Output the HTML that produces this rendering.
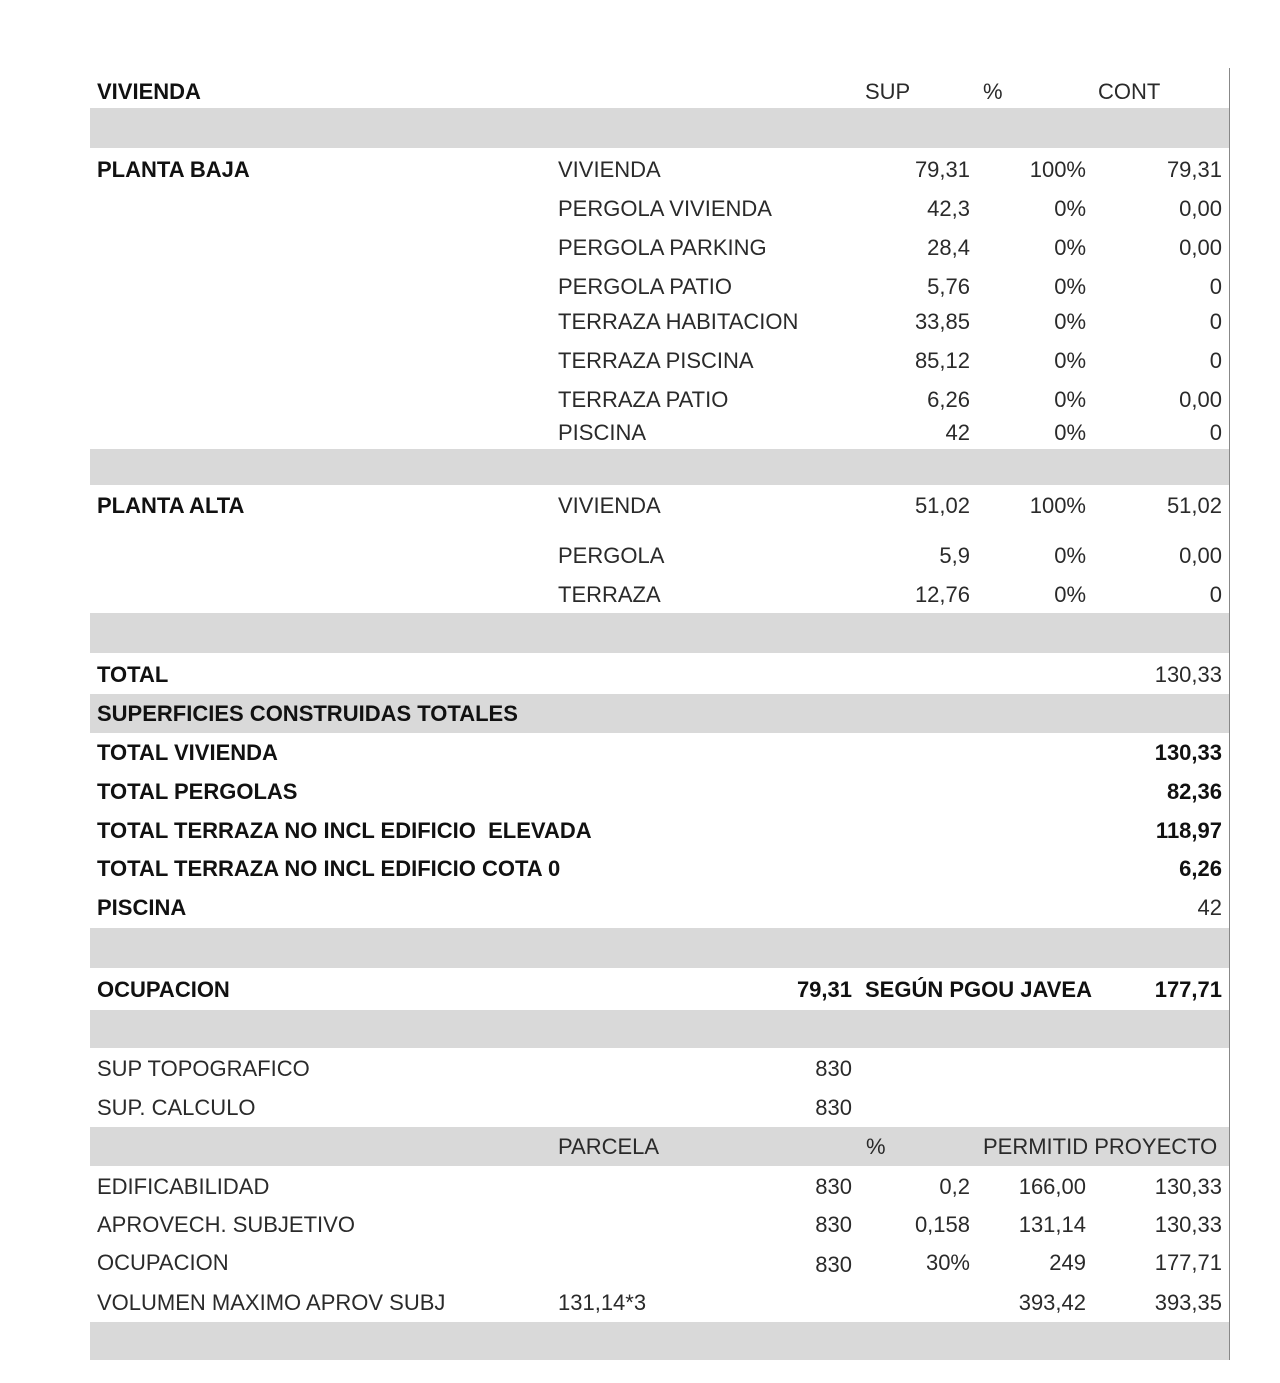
<!DOCTYPE html>
<html><head><meta charset="utf-8"><style>
body{margin:0;width:1280px;height:1383px;background:#fff;position:relative;overflow:hidden;font-family:"Liberation Sans",sans-serif;font-size:22px;color:#2a2a2a}
.g{position:absolute;left:90px;width:1139px;background:#d9d9d9}
.t{position:absolute;height:26px;line-height:26px;white-space:nowrap;margin-top:0px}
.r{text-align:right}
.b{font-weight:bold;color:#111}
#vl{position:absolute;left:1229px;top:68px;width:1px;height:1292px;background:#888}
</style></head><body>
<div class="g" style="top:108px;height:40px"></div>
<div class="g" style="top:449px;height:36px"></div>
<div class="g" style="top:613px;height:40px"></div>
<div class="g" style="top:694px;height:39px"></div>
<div class="g" style="top:928px;height:40px"></div>
<div class="g" style="top:1010px;height:38px"></div>
<div class="g" style="top:1127px;height:39px"></div>
<div class="g" style="top:1322px;height:38px"></div>
<div id="vl"></div>

<div class="t b" style="left:97px;top:79px">VIVIENDA</div>
<div class="t" style="left:865px;top:79px">SUP</div>
<div class="t" style="left:983px;top:79px">%</div>
<div class="t" style="left:1098px;top:79px">CONT</div>

<div class="t b" style="left:97px;top:157px">PLANTA BAJA</div>
<div class="t" style="left:558px;top:157px">VIVIENDA</div><div class="t r" style="right:310px;top:157px">79,31</div><div class="t r" style="right:194px;top:157px">100%</div><div class="t r" style="right:58px;top:157px">79,31</div>
<div class="t" style="left:558px;top:196px">PERGOLA VIVIENDA</div><div class="t r" style="right:310px;top:196px">42,3</div><div class="t r" style="right:194px;top:196px">0%</div><div class="t r" style="right:58px;top:196px">0,00</div>
<div class="t" style="left:558px;top:235px">PERGOLA PARKING</div><div class="t r" style="right:310px;top:235px">28,4</div><div class="t r" style="right:194px;top:235px">0%</div><div class="t r" style="right:58px;top:235px">0,00</div>
<div class="t" style="left:558px;top:274px">PERGOLA PATIO</div><div class="t r" style="right:310px;top:274px">5,76</div><div class="t r" style="right:194px;top:274px">0%</div><div class="t r" style="right:58px;top:274px">0</div>
<div class="t" style="left:558px;top:309px">TERRAZA HABITACION</div><div class="t r" style="right:310px;top:309px">33,85</div><div class="t r" style="right:194px;top:309px">0%</div><div class="t r" style="right:58px;top:309px">0</div>
<div class="t" style="left:558px;top:348px">TERRAZA PISCINA</div><div class="t r" style="right:310px;top:348px">85,12</div><div class="t r" style="right:194px;top:348px">0%</div><div class="t r" style="right:58px;top:348px">0</div>
<div class="t" style="left:558px;top:387px">TERRAZA PATIO</div><div class="t r" style="right:310px;top:387px">6,26</div><div class="t r" style="right:194px;top:387px">0%</div><div class="t r" style="right:58px;top:387px">0,00</div>
<div class="t" style="left:558px;top:420px">PISCINA</div><div class="t r" style="right:310px;top:420px">42</div><div class="t r" style="right:194px;top:420px">0%</div><div class="t r" style="right:58px;top:420px">0</div>

<div class="t b" style="left:97px;top:493px">PLANTA ALTA</div>
<div class="t" style="left:558px;top:493px">VIVIENDA</div><div class="t r" style="right:310px;top:493px">51,02</div><div class="t r" style="right:194px;top:493px">100%</div><div class="t r" style="right:58px;top:493px">51,02</div>
<div class="t" style="left:558px;top:543px">PERGOLA</div><div class="t r" style="right:310px;top:543px">5,9</div><div class="t r" style="right:194px;top:543px">0%</div><div class="t r" style="right:58px;top:543px">0,00</div>
<div class="t" style="left:558px;top:582px">TERRAZA</div><div class="t r" style="right:310px;top:582px">12,76</div><div class="t r" style="right:194px;top:582px">0%</div><div class="t r" style="right:58px;top:582px">0</div>

<div class="t b" style="left:97px;top:662px">TOTAL</div><div class="t r" style="right:58px;top:662px">130,33</div>
<div class="t b" style="left:97px;top:701px">SUPERFICIES CONSTRUIDAS TOTALES</div>
<div class="t b" style="left:97px;top:740px">TOTAL VIVIENDA</div><div class="t r b" style="right:58px;top:740px">130,33</div>
<div class="t b" style="left:97px;top:779px">TOTAL PERGOLAS</div><div class="t r b" style="right:58px;top:779px">82,36</div>
<div class="t b" style="left:97px;top:818px">TOTAL TERRAZA NO INCL EDIFICIO&nbsp; ELEVADA</div><div class="t r b" style="right:58px;top:818px">118,97</div>
<div class="t b" style="left:97px;top:856px">TOTAL TERRAZA NO INCL EDIFICIO COTA 0</div><div class="t r b" style="right:58px;top:856px">6,26</div>
<div class="t b" style="left:97px;top:895px">PISCINA</div><div class="t r" style="right:58px;top:895px">42</div>

<div class="t b" style="left:97px;top:977px">OCUPACION</div><div class="t r b" style="right:428px;top:977px">79,31</div>
<div class="t b" style="left:865px;top:977px;width:228px;overflow:hidden">SEGÚN PGOU JAVEA</div><div class="t r b" style="right:58px;top:977px">177,71</div>

<div class="t" style="left:97px;top:1056px">SUP TOPOGRAFICO</div><div class="t r" style="right:428px;top:1056px">830</div>
<div class="t" style="left:97px;top:1095px">SUP. CALCULO</div><div class="t r" style="right:428px;top:1095px">830</div>
<div class="t" style="left:558px;top:1134px">PARCELA</div><div class="t" style="left:866px;top:1134px">%</div><div class="t" style="left:983px;top:1134px;width:240px;overflow:hidden">PERMITID PROYECTO</div>
<div class="t" style="left:97px;top:1174px">EDIFICABILIDAD</div><div class="t r" style="right:428px;top:1174px">830</div><div class="t r" style="right:310px;top:1174px">0,2</div><div class="t r" style="right:194px;top:1174px">166,00</div><div class="t r" style="right:58px;top:1174px">130,33</div>
<div class="t" style="left:97px;top:1212px">APROVECH. SUBJETIVO</div><div class="t r" style="right:428px;top:1212px">830</div><div class="t r" style="right:310px;top:1212px">0,158</div><div class="t r" style="right:194px;top:1212px">131,14</div><div class="t r" style="right:58px;top:1212px">130,33</div>
<div class="t" style="left:97px;top:1250px">OCUPACION</div><div class="t r" style="right:428px;top:1252px">830</div><div class="t r" style="right:310px;top:1250px">30%</div><div class="t r" style="right:194px;top:1250px">249</div><div class="t r" style="right:58px;top:1250px">177,71</div>
<div class="t" style="left:97px;top:1290px">VOLUMEN MAXIMO APROV SUBJ</div><div class="t" style="left:558px;top:1290px">131,14*3</div><div class="t r" style="right:194px;top:1290px">393,42</div><div class="t r" style="right:58px;top:1290px">393,35</div>
</body></html>
